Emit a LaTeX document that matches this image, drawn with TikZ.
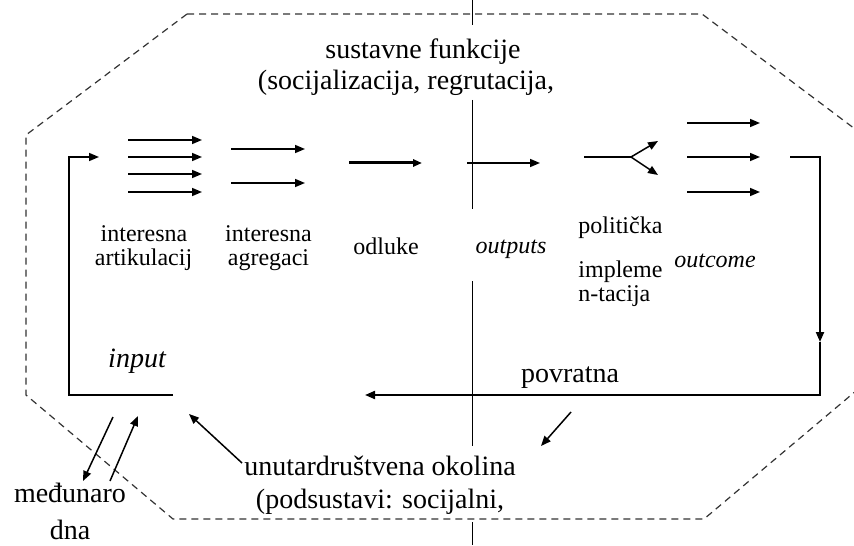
\documentclass[tikz,border=0pt]{standalone}
\usepackage{fontspec}
\setmainfont{Liberation Serif}
\usetikzlibrary{arrows.meta}
\begin{document}
\begin{tikzpicture}[x=0.5pt,y=-0.5pt,
  big/.style={inner sep=0pt,anchor=base,font=\fontsize{14}{16}\selectfont},
  small/.style={inner sep=0pt,anchor=base,font=\fontsize{12}{14}\selectfont},
  arr/.style={line width=0.75pt,-{Triangle[length=5pt,width=4pt]}},
  thickarr/.style={line width=1.5pt,-{Triangle[length=4.5pt,width=3.6pt]}},
  fbarr/.style={line width=1pt,-{Triangle[length=5pt,width=4pt]}},
  plain/.style={line width=0.75pt},
  border/.style={black!80,line width=0.6pt,dash pattern=on 3.5pt off 2.5pt},
  sep/.style={line width=0.5pt}]
\useasboundingbox (0,0) rectangle (854,545);
\clip (0,0) rectangle (854,545);
% dashed octagon (system boundary)
\draw[border] (187,14) -- (702,14) -- (863,135) -- (863,385) -- (704,519) -- (173,519) -- (26,395) -- (26,135) -- cycle;
% vertical separator
\coordinate (s1) at (472,0);   \coordinate (s2) at (472,25);
\coordinate (s3) at (472,100); \coordinate (s4) at (472,209);
\coordinate (s5) at (472,281); \coordinate (s6) at (472,446);
\coordinate (s7) at (472,522); \coordinate (s8) at (472,545);
\draw[sep] (s1) -- (s2);
\draw[sep] (s3) -- (s4);
\draw[sep] (s5) -- (s6);
\draw[sep] (s7) -- (s8);
% texts
\node[big] (sus1) at (423,59) {sustavne funkcije};
\node[big] (sus2) at (406,90) {(socijalizacija, regrutacija,};
\node[small] (ia1) at (144,241) {interesna};
\node[small] (ia2) at (143.5,265) {artikulacij};
\node[small] (ag1) at (268.5,241) {interesna};
\node[small] (ag2) at (268.5,265) {agregaci};
\node[small] (odl) at (386,254) {odluke};
\node[small,font=\fontsize{12}{14}\selectfont\itshape] (outp) at (511,253) {outputs};
\node[small,anchor=base west] (pol1) at (578,233) {politička};
\node[small,anchor=base west] (pol2) at (578,277) {impleme};
\node[small,anchor=base west] (pol3) at (578,301) {n-tacija};
\node[small,font=\fontsize{12}{14}\selectfont\itshape] (outc) at (715,267) {outcome};
\node[big,font=\fontsize{14}{16}\selectfont\itshape] (inp) at (137,367) {input};
\node[big] (povr) at (570,382) {povratna};
\node[big] (env1) at (380,475) {unutardruštvena okolina};
\node[big] (env2) at (380,508) {(podsustavi: socijalni,};
\node[big] (int1) at (70,502) {međunaro};
\node[big] (int2) at (70,539) {dna};
% articulation arrows
\foreach \i/\y in {1/140,2/157,3/174,4/192}{
  \coordinate (a\i s) at (128,\y); \coordinate (a\i e) at (202,\y);
  \draw[arr] (a\i s) -- (a\i e);}
% aggregation arrows
\foreach \i/\y in {1/149,2/183}{
  \coordinate (b\i s) at (231,\y); \coordinate (b\i e) at (305,\y);
  \draw[arr] (b\i s) -- (b\i e);}
% decisions
\coordinate (cs) at (349,163); \coordinate (ce) at (422,163);
\draw[thickarr] (cs) -- (ce);
% outputs
\coordinate (ds) at (467,163); \coordinate (de) at (540,163);
\draw[arr] (ds) -- (de);
% implementation fork
\coordinate (es) at (584,157); \coordinate (ef) at (631,157);
\coordinate (eu) at (658,141); \coordinate (ed) at (658,175);
\draw[plain] (es) -- (ef);
\draw[arr] (ef) -- (eu);
\draw[arr] (ef) -- (ed);
% outcome arrows
\foreach \i/\y in {1/123,2/157,3/192}{
  \coordinate (f\i s) at (687,\y); \coordinate (f\i e) at (760,\y);
  \draw[arr] (f\i s) -- (f\i e);}
% feedback loop
\coordinate (g1) at (790,157); \coordinate (g2) at (820,157);
\coordinate (g3) at (820,342); \coordinate (g4) at (820,395);
\coordinate (g5) at (365,395);
\draw[fbarr] (g1) -- (g2) -- (g3);
\draw[fbarr] (g3) -- (g4) -- (g5);
% input loop
\coordinate (h1) at (173,395); \coordinate (h2) at (69,395);
\coordinate (h3) at (69,157);  \coordinate (h4) at (99,157);
\draw[arr] (h1) -- (h2) -- (h3) -- (h4);
% environment arrows
\coordinate (k1) at (242,463); \coordinate (k2) at (189,414);
\draw[arr] (k1) -- (k2);
\coordinate (m1) at (571,412); \coordinate (m2) at (541,446);
\draw[arr] (m1) -- (m2);
% international arrows
\coordinate (n1) at (113,417); \coordinate (n2) at (83,481);
\draw[arr] (n1) -- (n2);
\coordinate (p1) at (110,481); \coordinate (p2) at (138,416);
\draw[arr] (p1) -- (p2);
\end{tikzpicture}
\end{document}
